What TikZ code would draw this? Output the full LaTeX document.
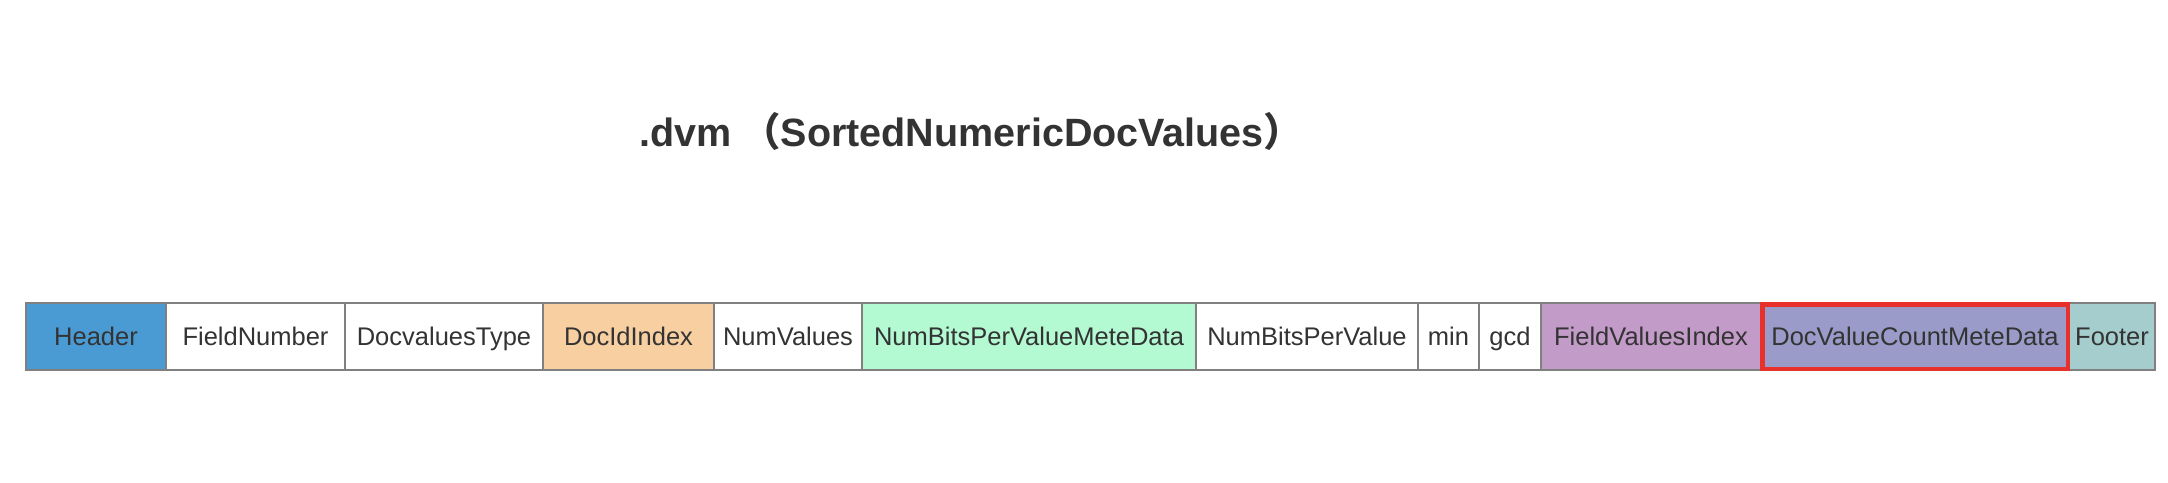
\documentclass[tikz,border=0pt]{standalone}
\usepackage{fontspec}
\setmainfont{Liberation Sans}
\newfontfamily\cjk{Noto Sans CJK SC}
\usepackage{tikz}
\usetikzlibrary{fit}
\definecolor{txtgray}{HTML}{333333}
\definecolor{cellgray}{HTML}{808080}
\definecolor{hdrblue}{HTML}{4A9BD4}
\definecolor{peach}{HTML}{F8CFA0}
\definecolor{mint}{HTML}{B3F9D2}
\definecolor{lilac}{HTML}{C39BC9}
\definecolor{slate}{HTML}{9A9BC8}
\definecolor{teal}{HTML}{A5CDCD}
\definecolor{hlred}{HTML}{E8312A}

\begin{document}
\begin{tikzpicture}[
  x=1pt, y=-1pt,
  font=\fontsize{25.5}{30}\selectfont, text=txtgray,
  cell/.style={draw=cellgray, line width=2pt, minimum height=67pt, inner sep=0pt,
    text height=18.4pt, text depth=0pt, anchor=west},
  hl/.style={draw=hlred, line width=4.5pt, inner sep=-2.25pt}
]
  \useasboundingbox (0,0) rectangle (2168,482);
  \node[font=\fontsize{39.5}{46}\selectfont\bfseries, anchor=west, inner sep=0pt] (title) at (639,131)
    {.dvm\hspace{10pt}{\cjk （}SortedNumericDocValues{\cjk ）}};
  \foreach \i/\x/\w/\c/\t in {1/25/140/hdrblue/Header, 2/165/179/white/FieldNumber,
      3/344/198/white/DocvaluesType, 4/542/171/peach/DocIdIndex, 5/713/148/white/NumValues,
      6/861/334/mint/NumBitsPerValueMeteData, 7/1195/222/white/NumBitsPerValue,
      8/1417/61/white/min, 9/1478/62/white/gcd, 10/1540/220/lilac/FieldValuesIndex,
      11/1760/308/slate/DocValueCountMeteData, 12/2068/86/teal/Footer} {
    \node[cell, fill=\c, minimum width=\w pt] (c\i) at (\x,336.5) {\t};
  }
  \node[hl, fit=(c11)] (focus) {};
\end{tikzpicture}
\end{document}
